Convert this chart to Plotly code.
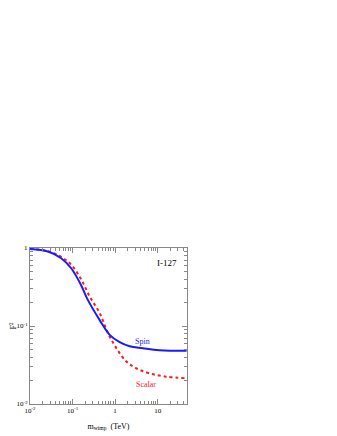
import plotly.graph_objects as go

# Form factor F^2 vs WIMP mass for I-127
mass_spin = [0.01, 0.0264, 0.054, 0.093, 0.158, 0.219, 0.435, 0.746, 1.28, 2.2, 4.5, 11, 48]
f2_spin = [0.97, 0.90, 0.74, 0.55, 0.336, 0.226, 0.119, 0.077, 0.062, 0.055, 0.052, 0.049, 0.048]

mass_scalar = [0.01, 0.0264, 0.054, 0.093, 0.158, 0.254, 0.435, 0.68, 1.07, 1.84, 3.16, 6.5, 15.8, 48]
f2_scalar = [0.98, 0.91, 0.77, 0.61, 0.40, 0.238, 0.146, 0.081, 0.052, 0.035, 0.0287, 0.0247, 0.0224, 0.0214]

x_tickvals = [0.01, 0.1, 1, 10]
x_ticktext = ["10<sup>-2</sup>", "10<sup>-1</sup>", "1", "10"]
y_tickvals = [0.01, 0.1, 1]
y_ticktext = ["10<sup>-2</sup>", "10<sup>-1</sup>", "1"]

x_minor = [m * d for d in [0.01, 0.1, 1, 10] for m in range(2, 10)]
y_minor = [m * d for d in [0.01, 0.1] for m in range(2, 10)]

serif = "Liberation Serif, Times New Roman, serif"

fig = go.Figure()

fig.add_trace(go.Scatter(
    x=mass_scalar, y=f2_scalar, mode="lines", name="Scalar",
    line=dict(color="#ff1a1a", width=2, dash="dot", shape="spline"),
))
fig.add_trace(go.Scatter(
    x=mass_spin, y=f2_spin, mode="lines", name="Spin",
    line=dict(color="#1a1aff", width=2, shape="spline"),
))

axis_common = dict(
    type="log",
    automargin=False,
    showgrid=False,
    zeroline=False,
    showline=True,
    linecolor="#888888",
    linewidth=1,
    mirror="allticks",
    ticks="inside",
    ticklen=5,
    tickwidth=1,
    tickcolor="#888888",
    tickfont=dict(family=serif, size=7, color="black"),
)

fig.update_xaxes(
    **axis_common,
    range=[-2, 1.69],
    tickmode="array", tickvals=x_tickvals, ticktext=x_ticktext,
    minor=dict(tickmode="array", tickvals=x_minor, ticks="inside", ticklen=3,
               tickwidth=1, tickcolor="#888888", showgrid=False),
    title=dict(text="m<sub>wimp</sub>  (TeV)", font=dict(family=serif, size=8, color="black"), standoff=8),
)
fig.update_yaxes(
    **axis_common,
    range=[-2, 0],
    tickmode="array", tickvals=y_tickvals, ticktext=y_ticktext,
    minor=dict(tickmode="array", tickvals=y_minor, ticks="inside", ticklen=3,
               tickwidth=1, tickcolor="#888888", showgrid=False),
    title=dict(text="F<sup>2</sup>", font=dict(family=serif, size=8, color="black"), standoff=6),
)

fig.add_annotation(x=1.23, y=-0.19, xref="x", yref="y", text="I-127",
                   showarrow=False,
                   font=dict(family=serif, size=9, color="black"))
fig.add_annotation(x=0.65, y=-1.2, text="Spin", showarrow=False, xref="x", yref="y",
                   font=dict(family=serif, size=8, color="#1a1aff"))
fig.add_annotation(x=0.73, y=-1.75, text="Scalar", showarrow=False, xref="x", yref="y",
                   font=dict(family=serif, size=8, color="#ff1a1a"))

# page body adds an 8px offset, so the figure is drawn 8px smaller
fig.update_layout(
    width=329, height=428,
    margin=dict(l=22, r=150, t=240, b=32),
    plot_bgcolor="white", paper_bgcolor="white",
    showlegend=False,
)

fig.write_html("out.html")
